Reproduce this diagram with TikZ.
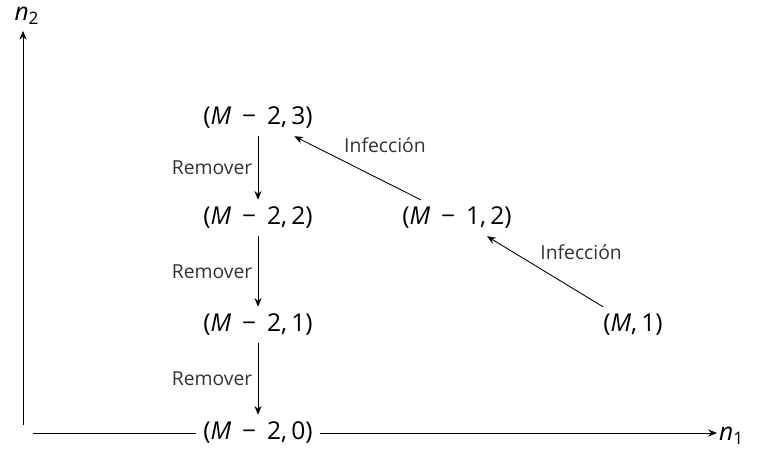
\documentclass[tikz,border=0pt]{standalone}
\usepackage{fontspec}
\setmainfont{Open Sans}
\usetikzlibrary{arrows.meta,positioning,calc}
\newcommand{\st}[2]{(\textit{M}\;\,−\;\,#1,\,#2)}

\begin{document}
\begin{tikzpicture}[
  >={Stealth[length=5pt,width=4pt]},
  font=\fontsize{14}{16}\selectfont,
  state/.style={inner sep=4pt},
  lab/.style={font=\fontsize{11}{13}\selectfont,inner sep=3pt,text=black!80},
  arr/.style={->,line width=0.5pt},
  axis/.style={line width=0.5pt}
]
  \useasboundingbox (0,0) rectangle (15.48,9);

  % axes
  \coordinate (ybot) at (0.46,0.5);
  \coordinate (xleft) at (0.66,0.34);
  \node (n2) at (0.54,8.68) {\textit{n}\textsubscript{2}};
  \node[anchor=west,inner sep=1pt] (n1) at (14.34,0.28) {\textit{n}\textsubscript{1}};

  \node[state] (m23) at (5.16,6.64) {\st{2}{3}};
  \node[state] (m22) at (5.16,4.64) {\st{2}{2}};
  \node[state] (m21) at (5.16,2.5) {\st{2}{1}};
  \node[state] (m20) at (5.16,0.34) {\st{2}{0}};
  \node[state] (m12) at (9.14,4.64) {\st{1}{2}};
  \node[state] (m01) at (12.66,2.5) {(\textit{M},\,1)};

  \draw[arr] (ybot) -- (ybot |- n2.south);
  \draw[axis] (xleft) -- (m20);
  \draw[arr] (m20) -- (m20 -| n1.west);

  \draw[arr] (m23) -- node[lab,left] {Remover} (m22);
  \draw[arr] (m22) -- node[lab,left] {Remover} (m21);
  \draw[arr] (m21) -- node[lab,left] {Remover} (m20);

  \draw[arr] (m01) -- node[lab,pos=0.59,above right] {Infección} (m12);
  \draw[arr] (m12) -- node[lab,pos=0.65,above right] {Infección} (m23);
\end{tikzpicture}
\end{document}
